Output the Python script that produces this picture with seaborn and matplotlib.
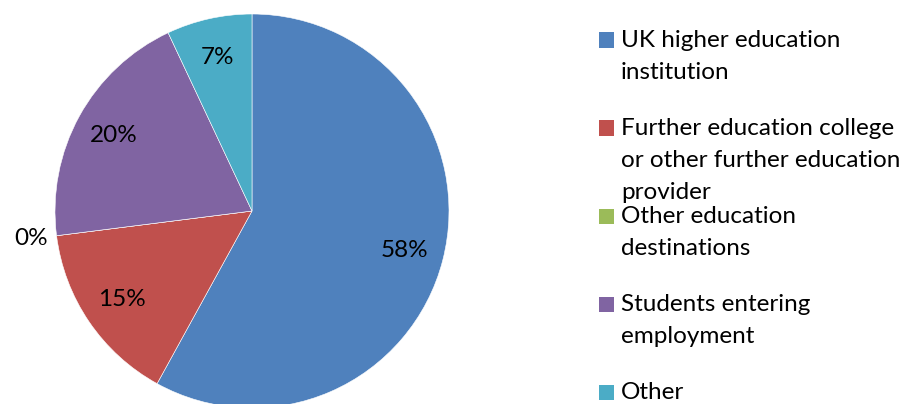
import matplotlib
matplotlib.use("Agg")
import matplotlib.pyplot as plt
from matplotlib.patches import Rectangle
import numpy as np
import seaborn as sns

categories = [
    "UK higher education\ninstitution",
    "Further education college\nor other further education\nprovider",
    "Other education\ndestinations",
    "Students entering\nemployment",
    "Other",
]
values = [58, 15, 0, 20, 7]
colors = ["#4F81BD", "#C0504D", "#9BBB59", "#8064A2", "#4BACC6"]

sns.set_style("white")
plt.rcParams["font.family"] = ["Lato", "DejaVu Sans"]
palette = sns.color_palette(colors)

W, H = 911, 404
fig = plt.figure(figsize=(W / 100, H / 100), dpi=100)

# pie axes: centre (252, 211) px from top-left, radius 197 px
cx, cy, r = 252, 211, 197
ax = fig.add_axes([(cx - r) / W, (H - cy - r) / H, 2 * r / W, 2 * r / H])
wedges, _ = ax.pie(values, colors=palette, startangle=90, counterclock=False,
                   wedgeprops=dict(edgecolor="white", linewidth=0.4))
ax.set_xlim(-1, 1)
ax.set_ylim(-1, 1)
ax.set_aspect("equal")
ax.axis("off")

for w, v in zip(wedges, values):
    ang = np.deg2rad((w.theta1 + w.theta2) / 2)
    d = 1.13 if v == 0 else 0.8
    ax.text(d * np.cos(ang), d * np.sin(ang), f"{v}%", ha="center", va="center",
            fontsize=17.5, color="black", clip_on=False)

# legend
for i, (lab, col) in enumerate(zip(categories, palette)):
    ys = 40 + 88 * i
    fig.add_artist(Rectangle((599 / W, 1 - (ys + 7.5) / H), 15 / W, 15 / H,
                             transform=fig.transFigure, facecolor=col, edgecolor="none"))
    for k, line in enumerate(lab.split("\n")):
        yb = 47 + 88 * i + 32 * k
        fig.text(621 / W, 1 - yb / H, line, ha="left", va="baseline",
                 fontsize=17.5, color="black")

fig.savefig("out.png", dpi=100)
